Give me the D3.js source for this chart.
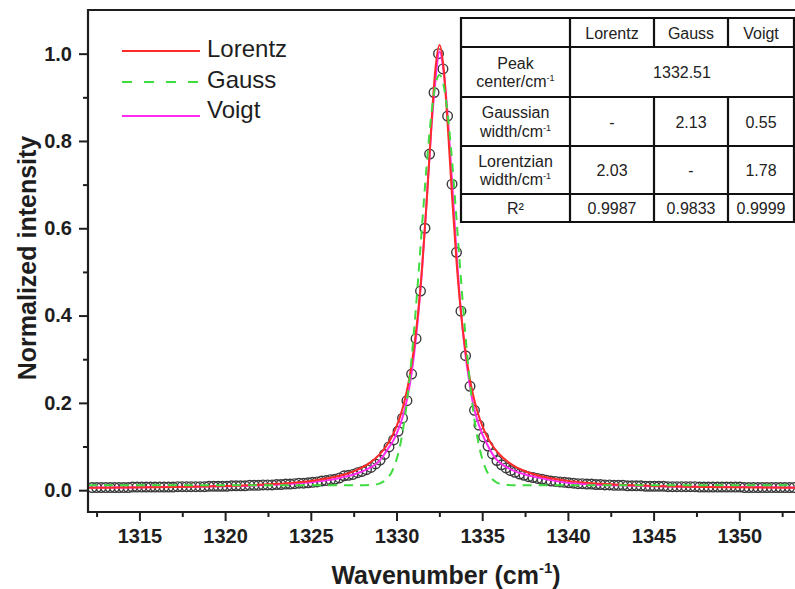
<!DOCTYPE html>
<html>
<head>
<meta charset="utf-8">
<script src="https://cdn.jsdelivr.net/npm/d3@7"></script>
<style>
  body { margin: 0; background: #fff; }
  svg { display: block; font-family: "Liberation Sans", Arial, Helvetica, sans-serif; }
</style>
</head>
<body>
<svg id="chart" width="795" height="589"></svg>
<script>
// measured spectrum (open circles)
const dataX = [
  1312.24, 1312.50, 1312.76, 1313.03, 1313.29, 1313.55, 1313.81, 1314.08, 1314.34, 1314.60,
  1314.86, 1315.13, 1315.39, 1315.65, 1315.91, 1316.18, 1316.44, 1316.70, 1316.96, 1317.23,
  1317.49, 1317.75, 1318.01, 1318.28, 1318.54, 1318.80, 1319.06, 1319.33, 1319.59, 1319.85,
  1320.11, 1320.38, 1320.64, 1320.90, 1321.16, 1321.43, 1321.69, 1321.95, 1322.21, 1322.48,
  1322.74, 1323.00, 1323.26, 1323.53, 1323.79, 1324.05, 1324.31, 1324.58, 1324.84, 1325.10,
  1325.36, 1325.63, 1325.89, 1326.15, 1326.41, 1326.68, 1326.94, 1327.20, 1327.46, 1327.73,
  1327.99, 1328.25, 1328.51, 1328.78, 1329.04, 1329.30, 1329.56, 1329.83, 1330.09, 1330.35,
  1330.61, 1330.88, 1331.14, 1331.40, 1331.66, 1331.93, 1332.19, 1332.45, 1332.71, 1332.98,
  1333.24, 1333.50, 1333.76, 1334.03, 1334.29, 1334.55, 1334.81, 1335.08, 1335.34, 1335.60,
  1335.86, 1336.13, 1336.39, 1336.65, 1336.91, 1337.18, 1337.44, 1337.70, 1337.96, 1338.23,
  1338.49, 1338.75, 1339.01, 1339.28, 1339.54, 1339.80, 1340.06, 1340.33, 1340.59, 1340.85,
  1341.11, 1341.38, 1341.64, 1341.90, 1342.16, 1342.43, 1342.69, 1342.95, 1343.21, 1343.48,
  1343.74, 1344.00, 1344.26, 1344.53, 1344.79, 1345.05, 1345.31, 1345.58, 1345.84, 1346.10,
  1346.36, 1346.63, 1346.89, 1347.15, 1347.41, 1347.68, 1347.94, 1348.20, 1348.46, 1348.73,
  1348.99, 1349.25, 1349.51, 1349.78, 1350.04, 1350.30, 1350.56, 1350.83, 1351.09, 1351.35,
  1351.61, 1351.88, 1352.14, 1352.40, 1352.66, 1352.93, 1353.19
];
const dataY = [
  0.006, 0.006, 0.006, 0.006, 0.006, 0.006, 0.006, 0.006, 0.006, 0.007,
  0.007, 0.007, 0.007, 0.007, 0.007, 0.007, 0.007, 0.007, 0.007, 0.008,
  0.008, 0.008, 0.008, 0.008, 0.008, 0.008, 0.009, 0.009, 0.009, 0.009,
  0.009, 0.010, 0.010, 0.010, 0.010, 0.011, 0.011, 0.011, 0.012, 0.012,
  0.012, 0.013, 0.013, 0.014, 0.014, 0.015, 0.016, 0.016, 0.017, 0.018,
  0.019, 0.021, 0.022, 0.024, 0.025, 0.028, 0.033, 0.034, 0.036, 0.040,
  0.043, 0.047, 0.052, 0.060, 0.069, 0.082, 0.099, 0.115, 0.135, 0.165,
  0.205, 0.266, 0.347, 0.456, 0.600, 0.770, 0.911, 1.000, 0.965, 0.857,
  0.701, 0.545, 0.410, 0.308, 0.238, 0.183, 0.149, 0.122, 0.101, 0.083,
  0.068, 0.058, 0.051, 0.045, 0.041, 0.037, 0.034, 0.031, 0.029, 0.027,
  0.025, 0.023, 0.021, 0.020, 0.019, 0.018, 0.017, 0.016, 0.015, 0.015,
  0.014, 0.014, 0.013, 0.013, 0.012, 0.012, 0.011, 0.011, 0.011, 0.010,
  0.010, 0.010, 0.010, 0.009, 0.009, 0.009, 0.009, 0.009, 0.008, 0.008,
  0.008, 0.008, 0.008, 0.008, 0.008, 0.007, 0.007, 0.007, 0.007, 0.007,
  0.007, 0.007, 0.007, 0.007, 0.007, 0.006, 0.006, 0.006, 0.006, 0.006,
  0.006, 0.006, 0.006, 0.006, 0.006, 0.006, 0.006
];

// fitted curves, sampled
const fitX = [
  1312, 1314, 1316, 1318, 1320, 1322, 1323, 1324, 1325, 1326,
  1326.5, 1327, 1327.5, 1328, 1328.5, 1329, 1329.25, 1329.5, 1329.75, 1330,
  1330.25, 1330.5, 1330.75, 1331, 1331.25, 1331.5, 1331.75, 1332, 1332.25, 1332.51,
  1332.75, 1333, 1333.25, 1333.5, 1333.75, 1334, 1334.25, 1334.5, 1334.75, 1335,
  1335.25, 1335.5, 1335.75, 1336, 1336.5, 1337, 1337.5, 1338, 1338.5, 1339,
  1340, 1341, 1342, 1343, 1345, 1347, 1349, 1351, 1353.6
];
const lorentzY = [
  0.0055, 0.0061, 0.0068, 0.0080, 0.0097, 0.0124, 0.0145, 0.0173, 0.0212, 0.0271,
  0.0312, 0.0364, 0.0431, 0.0520, 0.0642, 0.0815, 0.0928, 0.1068, 0.1241, 0.1459,
  0.1737, 0.2096, 0.2568, 0.3195, 0.4032, 0.5141, 0.6546, 0.8150, 0.9574, 1.020,
  0.9662, 0.8277, 0.6670, 0.5242, 0.4110, 0.3253, 0.2612, 0.2129, 0.1762, 0.1479,
  0.1257, 0.1081, 0.0939, 0.0823, 0.0648, 0.0524, 0.0434, 0.0366, 0.0314, 0.0273,
  0.0213, 0.0173, 0.0145, 0.0124, 0.0097, 0.0080, 0.0068, 0.0061, 0.0054
];
const gaussY = [
  0.011, 0.011, 0.011, 0.011, 0.011, 0.011, 0.011, 0.011, 0.011, 0.011,
  0.011, 0.011, 0.011, 0.011, 0.012, 0.015, 0.020, 0.028, 0.044, 0.070,
  0.110, 0.170, 0.251, 0.355, 0.478, 0.611, 0.740, 0.849, 0.924, 0.951,
  0.927, 0.857, 0.750, 0.621, 0.489, 0.365, 0.259, 0.175, 0.114, 0.072,
  0.045, 0.029, 0.020, 0.015, 0.012, 0.011, 0.011, 0.011, 0.011, 0.011,
  0.011, 0.011, 0.011, 0.011, 0.011, 0.011, 0.011, 0.011, 0.011
];
const voigtY = [
  0.006, 0.006, 0.007, 0.008, 0.009, 0.011, 0.013, 0.015, 0.018, 0.023,
  0.026, 0.031, 0.036, 0.043, 0.052, 0.067, 0.080, 0.095, 0.109, 0.129,
  0.154, 0.188, 0.236, 0.303, 0.393, 0.511, 0.657, 0.810, 0.930, 1.005,
  0.958, 0.850, 0.700, 0.545, 0.414, 0.318, 0.247, 0.192, 0.156, 0.129,
  0.108, 0.089, 0.074, 0.064, 0.051, 0.042, 0.036, 0.031, 0.027, 0.023,
  0.017, 0.014, 0.012, 0.011, 0.009, 0.008, 0.007, 0.007, 0.006
];

const xTicks = [1315, 1320, 1325, 1330, 1335, 1340, 1345, 1350];
const xMinorTicks = [1312.5, 1317.5, 1322.5, 1327.5, 1332.5, 1337.5, 1342.5, 1347.5, 1352.5];
const yTicks = [0, 0.2, 0.4, 0.6, 0.8, 1.0];
const yMinorTicks = [0.1, 0.3, 0.5, 0.7, 0.9];

const legendNames = ["Lorentz", "Gauss", "Voigt"];

// fit parameter table
const tableCols = ["Lorentz", "Gauss", "Voigt"];
const peakCenter = "1332.51";
const gaussianWidth = ["-", "2.13", "0.55"];
const lorentzianWidth = ["2.03", "-", "1.78"];
const rSquared = ["0.9987", "0.9833", "0.9999"];

const svg = d3.select("#chart");
const ink = "#1e1e1e";
const colors = { Lorentz: "#ff2b2b", Gauss: "#3edc3e", Voigt: "#ff2cf0" };

const plotLeft = 88, plotTop = 10, plotBottom = 512, plotRight = 801;
const x = d3.scaleLinear().domain([1312, 1353.6]).range([plotLeft, plotRight]);
const y = d3.scaleLinear().domain([-0.05, 1.1]).range([plotBottom, plotTop]);

svg.append("clipPath").attr("id", "plot-clip")
  .append("rect")
  .attr("x", plotLeft).attr("y", plotTop)
  .attr("width", plotRight - plotLeft).attr("height", plotBottom - plotTop);

const plot = svg.append("g").attr("clip-path", "url(#plot-clip)");

// data circles
const points = d3.zip(dataX, dataY);
plot.append("g")
  .selectAll("circle")
  .data(points)
  .join("circle")
  .attr("cx", (d) => x(d[0]))
  .attr("cy", (d) => y(d[1]))
  .attr("r", 4.8)
  .attr("fill", "none")
  .attr("stroke", "#3a3a3a")
  .attr("stroke-width", 1.4);

const line = d3.line()
  .x((d) => x(d[0]))
  .y((d) => y(d[1]))
  .curve(d3.curveMonotoneX);

plot.append("path")
  .datum(d3.zip(fitX, voigtY))
  .attr("d", line)
  .attr("fill", "none")
  .attr("stroke", colors.Voigt)
  .attr("stroke-width", 2);

plot.append("path")
  .datum(d3.zip(fitX, lorentzY))
  .attr("d", line)
  .attr("fill", "none")
  .attr("stroke", colors.Lorentz)
  .attr("stroke-width", 2);

plot.append("path")
  .datum(d3.zip(fitX, gaussY))
  .attr("d", line)
  .attr("fill", "none")
  .attr("stroke", colors.Gauss)
  .attr("stroke-width", 2)
  .attr("stroke-dasharray", "9,7");

// axes
const xAxis = svg.append("g")
  .attr("transform", `translate(0,${plotBottom})`)
  .call(d3.axisBottom(x).tickValues(xTicks).tickSize(9).tickPadding(8)
    .tickSizeOuter(0).tickFormat(d3.format("d")));
const xMinor = svg.append("g")
  .attr("transform", `translate(0,${plotBottom})`)
  .call(d3.axisBottom(x).tickValues(xMinorTicks).tickSize(5).tickFormat(""));

const yAxis = svg.append("g")
  .attr("transform", `translate(${plotLeft},0)`)
  .call(d3.axisLeft(y).tickValues(yTicks).tickSize(9).tickPadding(7)
    .tickSizeOuter(0).tickFormat(d3.format(".1f")));
const yMinor = svg.append("g")
  .attr("transform", `translate(${plotLeft},0)`)
  .call(d3.axisLeft(y).tickValues(yMinorTicks).tickSize(5).tickFormat(""));

[xAxis, xMinor, yAxis, yMinor].forEach((g) => {
  g.select(".domain").remove();
  g.selectAll(".tick line").attr("stroke", ink).attr("stroke-width", 2);
  g.selectAll(".tick text")
    .attr("fill", ink)
    .style("font-size", "20px")
    .style("font-weight", "bold")
    .style("font-family", "'Liberation Sans', Arial, sans-serif");
});

// frame: left, bottom, top (right side runs off the picture)
svg.append("path")
  .attr("d", `M${plotRight},${plotTop}H${plotLeft}V${plotBottom}H${plotRight}`)
  .attr("fill", "none")
  .attr("stroke", ink)
  .attr("stroke-width", 2.2);

// axis titles
const xTitle = svg.append("text")
  .attr("x", 446)
  .attr("y", 584)
  .attr("text-anchor", "middle")
  .attr("fill", ink)
  .style("font-size", "25px")
  .style("font-weight", "bold");
xTitle.append("tspan").text("Wavenumber (cm");
xTitle.append("tspan").attr("dy", -11).style("font-size", "15px").text("-1");
xTitle.append("tspan").attr("dy", 11).text(")");

svg.append("text")
  .attr("transform", "translate(36,258) rotate(-90)")
  .attr("text-anchor", "middle")
  .attr("fill", ink)
  .style("font-size", "25px")
  .style("font-weight", "bold")
  .text("Normalized intensity");

// legend
const legendLineY = [51, 82, 116];
const legendTextY = [57, 88, 118];
const legend = svg.append("g");
legendNames.forEach((name, i) => {
  legend.append("line")
    .attr("x1", 122).attr("x2", 200)
    .attr("y1", legendLineY[i]).attr("y2", legendLineY[i])
    .attr("stroke", colors[name])
    .attr("stroke-width", 2)
    .attr("stroke-dasharray", name === "Gauss" ? "10,12" : null);
  legend.append("text")
    .attr("x", 207)
    .attr("y", legendTextY[i])
    .attr("fill", ink)
    .style("font-size", "24px")
    .text(name);
});

// table
const colEdges = [461, 570, 654, 728, 794];
const rowEdges = [18, 47, 97, 146, 194, 222];
const table = svg.append("g");

table.append("rect")
  .attr("x", colEdges[0]).attr("y", rowEdges[0])
  .attr("width", colEdges[4] - colEdges[0])
  .attr("height", rowEdges[5] - rowEdges[0])
  .attr("fill", "#fff");

const grid = [];
rowEdges.forEach((ry) => grid.push(`M${colEdges[0]},${ry}H${colEdges[4]}`));
colEdges.forEach((cx, ci) => {
  for (let r = 0; r < 5; r++) {
    // the peak-centre row spans the three fit columns
    if (r === 1 && (ci === 2 || ci === 3)) continue;
    grid.push(`M${cx},${rowEdges[r]}V${rowEdges[r + 1]}`);
  }
});
table.append("path")
  .attr("d", grid.join(""))
  .attr("fill", "none")
  .attr("stroke", "#111")
  .attr("stroke-width", 2.2)
  .attr("stroke-linecap", "square");

function cellText(c0, c1, r, txt) {
  const cx = (colEdges[c0] + colEdges[c1]) / 2;
  const cy = (rowEdges[r] + rowEdges[r + 1]) / 2;
  return table.append("text")
    .attr("x", cx)
    .attr("y", cy + 6)
    .attr("text-anchor", "middle")
    .attr("fill", "#222")
    .style("font-size", "16px")
    .text(txt);
}

function unitCell(r, word) {
  const cx = (colEdges[0] + colEdges[1]) / 2;
  const cy = (rowEdges[r] + rowEdges[r + 1]) / 2;
  const t = table.append("text")
    .attr("text-anchor", "middle")
    .attr("fill", "#222")
    .style("font-size", "16px");
  t.append("tspan").attr("x", cx).attr("y", cy - 3.5).text(word);
  const l2 = t.append("tspan").attr("x", cx).attr("y", cy + 15);
  l2.append("tspan").text(r === 1 ? "center/cm" : "width/cm");
  l2.append("tspan").attr("dy", -6).style("font-size", "9px").text("-1");
}

tableCols.forEach((c, i) => cellText(i + 1, i + 2, 0, c));
unitCell(1, "Peak");
cellText(1, 4, 1, peakCenter);
unitCell(2, "Gaussian");
gaussianWidth.forEach((v, i) => cellText(i + 1, i + 2, 2, v));
unitCell(3, "Lorentzian");
lorentzianWidth.forEach((v, i) => cellText(i + 1, i + 2, 3, v));
cellText(0, 1, 4, "R\u00b2");
rSquared.forEach((v, i) => cellText(i + 1, i + 2, 4, v));
</script>
</body>
</html>
